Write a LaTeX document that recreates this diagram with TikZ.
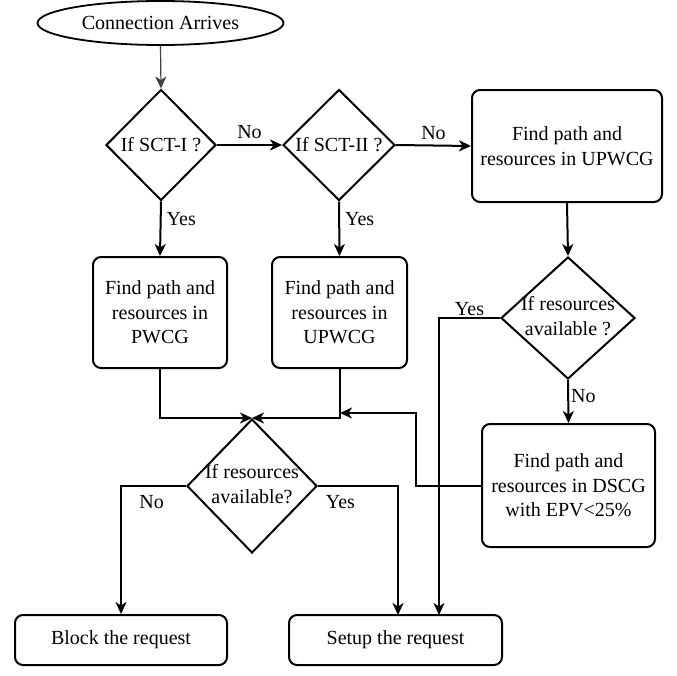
\documentclass[tikz,border=0pt]{standalone}
\usepackage{fontspec}
\setmainfont{Liberation Serif}
\newfontfamily\tnr{Liberation Serif}
\usetikzlibrary{shapes.geometric,arrows.meta,calc}
\begin{document}
\begin{tikzpicture}[x=1pt,y=-1pt,
  every node/.style={font=\tnr\fontsize{20}{24.5}\selectfont},
  box/.style={draw,line width=2pt,rounded corners=8pt,align=center,inner sep=0pt},
  dia/.style={draw,diamond,line width=2pt,inner sep=0pt},
  arr/.style={line width=2pt,-{Stealth[length=12pt,width=11pt,inset=3.5pt]}},
  lbl/.style={inner sep=5pt}]
\useasboundingbox (0,0) rectangle (677,675);
\node[draw,ellipse,line width=1.8pt,minimum width=246pt,minimum height=44pt,inner sep=0pt] (start) at (160.5,23) {Connection Arrives};
\node[dia,minimum width=110pt,minimum height=111pt] (d1) at (161,145) {\makebox[0pt]{If SCT-I ?}};
\node[dia,minimum width=112pt,minimum height=111pt] (d2) at (339,145) {\makebox[0pt]{If SCT-II ?}};
\node[box,minimum width=190pt,minimum height=112pt] (up1) at (567,146) {Find path and\\resources in UPWCG};
\node[dia,minimum width=134pt,minimum height=122pt] (d3) at (568,318) {\makebox[0pt]{\begin{tabular}{@{}c@{}}If resources\\available ?\end{tabular}}};
\node[box,minimum width=134pt,minimum height=111pt] (pw) at (160,312.5) {Find path and\\resources in\\PWCG};
\node[box,minimum width=135pt,minimum height=111pt] (up2) at (339.5,312.5) {Find path and\\resources in\\UPWCG};
\node[box,minimum width=173pt,minimum height=123pt] (ds) at (568.5,485.5) {Find path and\\resources in DSCG\\with EPV<25\%};
\node[dia,minimum width=130pt,minimum height=134pt] (d4) at (252,486) {\makebox[0pt]{\begin{tabular}{@{}c@{}}If resources\\available?\end{tabular}}};
\node[box,minimum width=212pt,minimum height=50pt] (block) at (121,640) {Block the request};
\node[box,minimum width=213pt,minimum height=50pt] (setup) at (395.5,640) {Setup the request};
\coordinate (s1) at (398,615);
\coordinate (s2) at (439,615);
\coordinate (merge) at (340,413);
\draw[line width=1.2pt,black!75,-{Stealth[length=12pt,width=11pt,inset=3.5pt]}] (start.south) -- (d1.north);
\draw[arr] (d1.east) -- node[above,lbl]{No} (d2.west);
\draw[arr] (d2.east) -- node[above,lbl]{No} (up1.west);
\draw[arr] (d1.south) -- node[pos=0.32,right,lbl]{Yes} (pw.north);
\draw[arr] (d2.south) -- node[pos=0.32,right,lbl]{Yes} (up2.north);
\draw[arr] (up1.south) -- (d3.north);
\draw[arr] (d3.south) -- node[pos=0.38,right,inner sep=2pt]{No} (ds.north);
\draw[arr] (d3.west) -| node[pos=0.25,above,inner sep=1pt]{Yes} (s2);
\draw[arr] (ds.west) -- ++(-65,0) |- (merge);
\draw[arr] (pw.south) |- (d4.north);
\draw[arr] (up2.south) |- (d4.north);
\draw[arr] (d4.west) -| node[pos=0.265,below,inner sep=8pt]{No} (block.north);
\draw[arr] (d4.east) -| node[pos=0.14,below,inner sep=8pt]{Yes} (s1);
\end{tikzpicture}
\end{document}
